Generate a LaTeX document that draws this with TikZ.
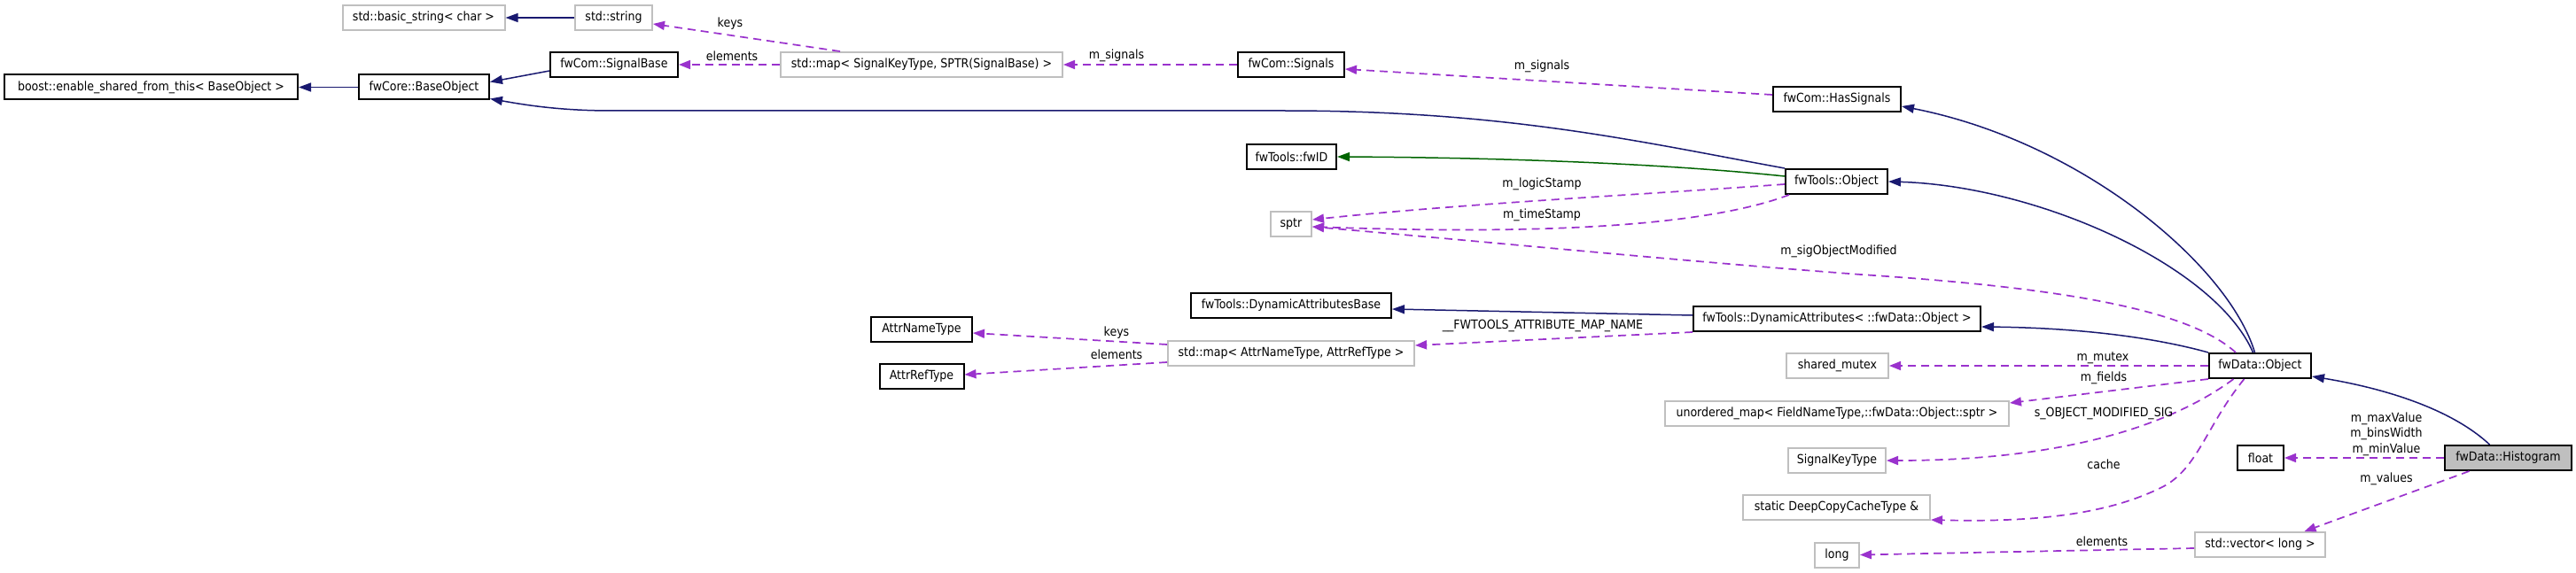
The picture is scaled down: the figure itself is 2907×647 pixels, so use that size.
\documentclass[tikz,border=0pt]{standalone}
\usepackage{fontspec}
\setmainfont{DejaVu Sans Condensed}
\usetikzlibrary{arrows.meta}
\definecolor{inhblue}{HTML}{191970}
\definecolor{inhgreen}{HTML}{006400}
\definecolor{usepurple}{HTML}{9A32CD}
\definecolor{ugray}{HTML}{BFBFBF}
\begin{document}
\begin{tikzpicture}[x=0.5pt,y=-0.5pt,
  cls/.style={draw=black, line width=1pt, fill=white, minimum height=14pt, inner sep=0pt, font=\fontsize{7}{8.75}\selectfont},
  ext/.style={cls, draw=ugray},
  lbl/.style={inner sep=0pt, font=\fontsize{7}{8.75}\selectfont},
  inh/.style={draw=inhblue, line width=0.75pt, -{Triangle[length=7pt,width=5pt]}},
  grn/.style={inh, draw=inhgreen},
  use/.style={draw=usepurple, line width=0.85pt, dash pattern=on 4.5pt off 3pt, -{Triangle[length=6.5pt,width=5pt]}}]
\fill[white] (0,0) rectangle (2907,647);
\useasboundingbox (0,0) rectangle (2907,647);
% nodes
\node[ext, minimum width=91.5pt] (bstring) at (478,20) {std::basic\_string< char >};
\node[ext, minimum width=43.5pt] (stdstring) at (692.5,20) {std::string};
\node[cls, minimum width=72pt] (sigbase) at (693,73) {fwCom::SignalBase};
\node[ext, minimum width=159pt] (mapsig) at (1040,73) {std::map< SignalKeyType, SPTR(SignalBase) >};
\node[cls, minimum width=60pt] (signals) at (1457,73) {fwCom::Signals};
\node[cls, minimum width=165.5pt] (boost) at (170.5,98.5) {boost::enable\_shared\_from\_this< BaseObject >};
\node[cls, minimum width=73.5pt] (baseobj) at (478.5,98.5) {fwCore::BaseObject};
\node[cls, minimum width=72pt] (hassig) at (2073,112) {fwCom::HasSignals};
\node[cls, minimum width=50.5pt] (fwid) at (1457.5,177) {fwTools::fwID};
\node[cls, minimum width=57.5pt] (toolsobj) at (2072.5,205) {fwTools::Object};
\node[ext, minimum width=23pt] (sptr) at (1457,253) {sptr};
\node[cls, minimum width=113pt] (dynbase) at (1457,345) {fwTools::DynamicAttributesBase};
\node[cls, minimum width=162pt] (dyn) at (2073,360) {fwTools::DynamicAttributes< ::fwData::Object >};
\node[cls, minimum width=57pt] (attrname) at (1040,371.5) {AttrNameType};
\node[ext, minimum width=139pt] (mapattr) at (1457,399) {std::map< AttrNameType, AttrRefType >};
\node[ext, minimum width=57.5pt] (smutex) at (2073.5,413) {shared\_mutex};
\node[cls, minimum width=57.5pt] (dataobj) at (2550.5,413) {fwData::Object};
\node[cls, minimum width=47.5pt] (attrref) at (1040,425) {AttrRefType};
\node[ext, minimum width=194pt] (umap) at (2073,466.5) {unordered\_map< FieldNameType,::fwData::Object::sptr >};
\node[cls, minimum width=26pt] (flt) at (2551,517) {float};
\node[cls, fill=ugray, minimum width=71.5pt] (histo) at (2830.5,517) {fwData::Histogram};
\node[ext, minimum width=55pt] (sigkey) at (2073,520) {SignalKeyType};
\node[ext, minimum width=105.5pt] (deepcopy) at (2072.5,573) {static DeepCopyCacheType \&};
\node[ext, minimum width=73.5pt] (vec) at (2550.5,615) {std::vector< long >};
\node[ext, minimum width=25pt] (lng) at (2073,626.5) {long};
% inheritance
\draw[inh] (stdstring.west) -- (bstring.east);
\draw[inh] ([yshift=-3.5pt]sigbase.west) -- ([yshift=3pt]baseobj.east);
\draw[inh] (toolsobj.north west) .. controls (1850,160) and (1700,125) .. (1450,125) -- (690,125) .. controls (630,125) and (590,118) .. ([yshift=-6.5pt]baseobj.east);
\draw[inh] (baseobj.west) -- (boost.east);
\draw[inh] ([xshift=-3pt]dataobj.north) .. controls (2515,300) and (2350,160) .. ([yshift=-4pt]hassig.east);
\draw[inh] ([xshift=-4pt]dataobj.north) .. controls (2500,300) and (2300,210) .. (toolsobj.east);
\draw[inh] (dataobj.north west) .. controls (2420,378) and (2330,370) .. ([yshift=-4.5pt]dyn.east);
\draw[inh] ([yshift=2pt]dyn.west) -- ([yshift=-2pt]dynbase.east);
\draw[inh] ([xshift=-10.5pt]histo.north) .. controls (2770,465) and (2700,440) .. ([yshift=-6pt]dataobj.east);
\draw[grn] ([yshift=3pt]toolsobj.west) .. controls (1880,185) and (1700,178) .. (fwid.east);
% usage
\draw[use] ([xshift=-46pt]mapsig.north) -- ([yshift=-3.5pt]stdstring.east);
\draw[use] (mapsig.west) -- (sigbase.east);
\draw[use] (signals.west) -- (mapsig.east);
\draw[use] ([yshift=2.5pt]hassig.west) -- ([yshift=-2.5pt]signals.east);
\draw[use] ([yshift=-1.5pt]toolsobj.west) .. controls (1850,220) and (1650,230) .. ([yshift=2.5pt]sptr.east);
\draw[use] ([xshift=2.5pt]toolsobj.south west) .. controls (1900,265) and (1650,262) .. ([yshift=-1.5pt]sptr.east);
\draw[use] ([xshift=-13.75pt]dataobj.north) .. controls (2470,350) and (2330,325) .. (2100,310) .. controls (1900,295) and (1700,275) .. ([yshift=-1.5pt]sptr.east);
\draw[use] (dyn.south west) -- ([yshift=4.5pt]mapattr.east);
\draw[use] ([yshift=5pt]mapattr.west) -- ([yshift=-2.25pt]attrname.east);
\draw[use] ([yshift=-5pt]mapattr.west) -- ([yshift=1pt]attrref.east);
\draw[use] (dataobj.west) -- (smutex.east);
\draw[use] (dataobj.south west) -- ([yshift=5.75pt]umap.east);
\draw[use] ([xshift=-15pt]dataobj.south) .. controls (2450,480) and (2330,520) .. (sigkey.east);
\draw[use] ([xshift=-9pt]dataobj.south) .. controls (2490,480) and (2480,530) .. (2440,550) .. controls (2380,580) and (2300,590) .. ([yshift=-7pt]deepcopy.east);
\draw[use] (histo.west) -- (flt.east);
\draw[use] ([xshift=-22pt]histo.south) -- ([xshift=25pt]vec.north);
\draw[use] ([yshift=-2pt]vec.west) -- (lng.east);
% labels
\node[lbl] (l1) at (824,27) {keys};
\node[lbl] (l2) at (826,63) {elements};
\node[lbl] (l3) at (1260,63) {m\_signals};
\node[lbl] (l4) at (1740,75) {m\_signals};
\node[lbl] (l5) at (1740,208) {m\_logicStamp};
\node[lbl] (l6) at (1740,243) {m\_timeStamp};
\node[lbl] (l7) at (2075,284) {m\_sigObjectModified};
\node[lbl] (l8) at (1741,368) {\_\_FWTOOLS\_ATTRIBUTE\_MAP\_NAME};
\node[lbl] (l9) at (1260,376) {keys};
\node[lbl] (l10) at (1260,400) {elements};
\node[lbl] (l11) at (2373,404) {m\_mutex};
\node[lbl] (l12) at (2374,427) {m\_fields};
\node[lbl] (l13) at (2374,467) {s\_OBJECT\_MODIFIED\_SIG};
\node[lbl] (l14) at (2374,524) {cache};
\node[lbl, align=center] (l15) at (2693,490) {m\_maxValue\\m\_binsWidth\\m\_minValue};
\node[lbl] (l16) at (2693,541) {m\_values};
\node[lbl] (l17) at (2372,611) {elements};
\end{tikzpicture}
\end{document}
